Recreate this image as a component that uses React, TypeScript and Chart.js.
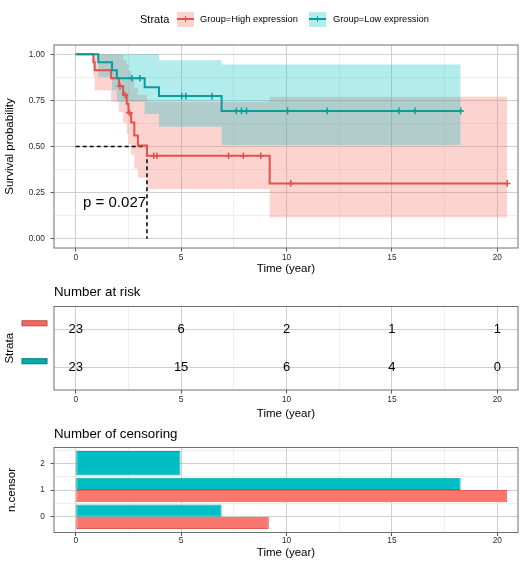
import React, { useEffect, useRef } from "react";
import { Chart, registerables } from "chart.js";
Chart.register(...registerables);

// ---------------- data ----------------
const highTimes = [0, 0.84, 0.9, 1.68, 2.05, 2.25, 2.42, 2.5, 2.63, 2.78, 2.95, 3.38, 9.2, 20.47];
const highSurv = [1, 0.957, 0.913, 0.87, 0.826, 0.78, 0.731, 0.683, 0.63, 0.56, 0.506, 0.45, 0.3, 0.3];
const highUpper = [1, 1, 1, 1, 0.996, 0.971, 0.941, 0.909, 0.874, 0.82, 0.78, 0.742, 0.77, 0.77];
const highLower = [1, 0.877, 0.805, 0.742, 0.685, 0.627, 0.568, 0.513, 0.455, 0.38, 0.33, 0.27, 0.117, 0.117];
const highCensor = [2.1, 2.34, 2.55, 3.7, 3.85, 7.25, 7.95, 8.78, 10.2, 20.47];

const lowTimes = [0, 1.07, 1.72, 1.95, 3.27, 3.95, 6.92, 18.26];
const lowSurv = [1, 0.957, 0.913, 0.87, 0.821, 0.773, 0.693, 0.693];
const lowUpper = [1, 1, 1, 1, 1, 0.967, 0.944, 0.944];
const lowLower = [1, 0.877, 0.805, 0.742, 0.676, 0.607, 0.508, 0.508];
const lowCensor = [2.66, 3.04, 5.03, 5.22, 6.46, 7.62, 7.86, 8.1, 10.05, 11.93, 15.33, 16.09, 18.26];

const medianTime = 3.38;
const medianSurv = 0.5;
const pValueText = "p = 0.027";

const xMajorTicks = [0, 5, 10, 15, 20];
const xMinorTicks = [2.5, 7.5, 12.5, 17.5];
const survTicks = [0, 0.25, 0.5, 0.75, 1];
const survMinorTicks = [0.125, 0.375, 0.625, 0.875];

const riskTimes = [0, 5, 10, 15, 20];
const riskHigh = [23, 6, 2, 1, 1];
const riskLow = [23, 15, 6, 4, 0];
const riskRows = [1, 2];

const censorLevels = [2, 1, 0];
const censorMinorLevels = [0.5, 1.5, 2.5];
const censorLowMaxTime = [4.97, 18.26, 6.92];
const censorHighMaxTime = [null, 20.47, 9.16];

// ---------------- styles ----------------
const FONT = "'Liberation Sans', Arial, Helvetica, sans-serif";
const RED_LINE = "#E0524A";
const TEAL_LINE = "#0B9A9E";
const RED_FILL = "rgba(248,118,109,0.32)";
const TEAL_FILL = "rgba(0,191,196,0.3)";
const RED_BAR = "#F8766D";
const TEAL_BAR = "#00BFC4";
const GRID_MAJOR = "#CFCFCF";
const GRID_MINOR = "#E3E3E3";
const TICK_TEXT = "#2b2b2b";
const PANEL_BORDER = "#707070";
const X_MIN = -1.03;
const X_MAX = 20.98;

const pts = (xs: number[], ys: number[]) => xs.map((x, i) => ({ x, y: ys[i] }));
function stepAt(times: number[], surv: number[], t: number) {
  let v = surv[0];
  for (let i = 0; i < times.length; i++) if (times[i] <= t) v = surv[i];
  return v;
}
const censorPts = (cs: number[], times: number[], surv: number[]) =>
  cs.map((t) => ({ x: t, y: stepAt(times, surv, t) }));

function xAxis(height: number, tickPad: number, titlePadBottom: number) {
  const all = [...xMajorTicks, ...xMinorTicks].sort((a, b) => a - b);
  const isMajor = (c: any) => c.tick && xMajorTicks.includes(c.tick.value);
  return {
    type: "linear",
    min: X_MIN,
    max: X_MAX,
    offset: false,
    afterBuildTicks: (s: any) => {
      s.ticks = all.map((v) => ({ value: v }));
    },
    afterFit: (s: any) => {
      s.height = height;
    },
    ticks: {
      autoSkip: false,
      maxRotation: 0,
      padding: tickPad,
      font: { family: FONT, size: 8.3 },
      color: TICK_TEXT,
      callback: (v: any) => (xMajorTicks.includes(v) ? String(v) : ""),
    },
    grid: {
      offset: false,
      color: (c: any) => (isMajor(c) ? GRID_MAJOR : GRID_MINOR),
      lineWidth: (c: any) => (isMajor(c) ? 1 : 0.6),
      tickColor: (c: any) => (isMajor(c) ? "#555" : "rgba(0,0,0,0)"),
      tickLength: 3.5,
      tickWidth: 1,
    },
    border: { display: false },
    title: {
      display: true,
      text: "Time (year)",
      color: "#000",
      font: { family: FONT, size: 11.5 },
      padding: { top: 0, bottom: titlePadBottom },
    },
  };
}

function yAxis(opts: {
  min: number;
  max: number;
  major: number[];
  minor: number[];
  label: (v: number) => string;
  title: string;
  titlePad: number;
  showTickMarks: boolean;
}) {
  const all = [...opts.major, ...opts.minor].sort((a, b) => a - b);
  const isMajor = (c: any) => c.tick && opts.major.includes(c.tick.value);
  return {
    type: "linear",
    min: opts.min,
    max: opts.max,
    offset: false,
    afterBuildTicks: (s: any) => {
      s.ticks = all.map((v) => ({ value: v }));
    },
    afterFit: (s: any) => {
      s.width = 54;
    },
    ticks: {
      autoSkip: false,
      padding: 5.6,
      font: { family: FONT, size: 8.3 },
      color: TICK_TEXT,
      callback: (v: any) => (opts.major.includes(v) ? opts.label(v) : ""),
    },
    grid: {
      offset: false,
      color: (c: any) => (isMajor(c) ? GRID_MAJOR : GRID_MINOR),
      lineWidth: (c: any) => (isMajor(c) ? 1 : 0.6),
      tickColor: (c: any) => (isMajor(c) && opts.showTickMarks ? "#555" : "rgba(0,0,0,0)"),
      tickLength: 3.5,
      tickWidth: 1,
    },
    border: { display: false },
    title: {
      display: true,
      text: opts.title,
      color: "#000",
      font: { family: FONT, size: 11.5 },
      padding: { top: opts.titlePad, bottom: 0 },
    },
  };
}

const borderPlugin = {
  id: "panelBorder",
  afterDraw(chart: any) {
    const { ctx, chartArea: a } = chart;
    ctx.save();
    ctx.strokeStyle = PANEL_BORDER;
    ctx.lineWidth = 1;
    ctx.strokeRect(a.left, a.top, a.right - a.left, a.bottom - a.top);
    ctx.restore();
  },
};

function titlePlugin(text: string, y: number) {
  return {
    id: "panelTitle",
    afterDraw(chart: any) {
      const { ctx, chartArea: a } = chart;
      ctx.save();
      ctx.fillStyle = "#000";
      ctx.font = `13.3px ${FONT}`;
      ctx.textAlign = "left";
      ctx.textBaseline = "middle";
      ctx.fillText(text, a.left, y);
      ctx.restore();
    },
  };
}

const baseOptions = {
  responsive: false,
  animation: false,
  events: [],
  plugins: { legend: { display: false }, tooltip: { enabled: false }, title: { display: false } },
};

function mainConfig(): any {
  const ribbon = (times: number[], vals: number[], fill: any, bg: string) => ({
    type: "line",
    data: pts(times, vals),
    borderColor: "rgba(0,0,0,0)",
    borderWidth: 0,
    pointRadius: 0,
    stepped: "before",
    fill,
    backgroundColor: bg,
  });
  return {
    type: "line",
    data: {
      datasets: [
        {
          type: "line",
          label: "Group=Low expression",
          data: pts(lowTimes, lowSurv),
          borderColor: TEAL_LINE,
          borderWidth: 2,
          pointRadius: 0,
          stepped: "before",
          fill: false,
        },
        {
          type: "line",
          label: "Group=High expression",
          data: pts(highTimes, highSurv),
          borderColor: RED_LINE,
          borderWidth: 2,
          pointRadius: 0,
          stepped: "before",
          fill: false,
        },
        {
          type: "scatter",
          data: censorPts(lowCensor, lowTimes, lowSurv),
          pointStyle: "cross",
          pointRadius: 3.3,
          borderColor: TEAL_LINE,
          backgroundColor: TEAL_LINE,
          borderWidth: 1.5,
        },
        {
          type: "scatter",
          data: censorPts(highCensor, highTimes, highSurv),
          pointStyle: "cross",
          pointRadius: 3.3,
          borderColor: RED_LINE,
          backgroundColor: RED_LINE,
          borderWidth: 1.5,
        },
        {
          type: "line",
          data: [
            { x: 0, y: medianSurv },
            { x: medianTime, y: medianSurv },
            { x: medianTime, y: 0 },
          ],
          borderColor: "#000",
          borderDash: [4, 3],
          borderWidth: 1.5,
          pointRadius: 0,
          fill: false,
        },
        ribbon(lowTimes, lowUpper, false, TEAL_FILL),
        ribbon(lowTimes, lowLower, 5, TEAL_FILL),
        ribbon(highTimes, highUpper, false, RED_FILL),
        ribbon(highTimes, highLower, 7, RED_FILL),
      ],
    },
    options: {
      ...baseOptions,
      layout: { padding: { top: 45, right: 10, left: 0, bottom: 0 } },
      scales: {
        x: xAxis(34, 1, 6),
        y: yAxis({
          min: -0.05,
          max: 1.05,
          major: survTicks,
          minor: survMinorTicks,
          label: (v) => v.toFixed(2),
          title: "Survival probability",
          titlePad: 3,
          showTickMarks: true,
        }),
      },
    },
    plugins: [
      borderPlugin,
      {
        id: "pvalue",
        afterDraw(chart: any) {
          const { ctx, scales } = chart;
          ctx.save();
          ctx.fillStyle = "#000";
          ctx.font = `15px ${FONT}`;
          ctx.textAlign = "left";
          ctx.textBaseline = "middle";
          ctx.fillText(pValueText, scales.x.getPixelForValue(0.35), scales.y.getPixelForValue(0.195));
          ctx.restore();
        },
      },
    ],
  };
}

function riskConfig(): any {
  return {
    type: "scatter",
    data: {
      datasets: [
        {
          label: "High",
          data: riskTimes.map((t, i) => ({ x: t, y: 2, n: riskHigh[i] })),
          pointRadius: 0,
        },
        {
          label: "Low",
          data: riskTimes.map((t, i) => ({ x: t, y: 1, n: riskLow[i] })),
          pointRadius: 0,
        },
      ],
    },
    options: {
      ...baseOptions,
      layout: { padding: { top: 24.5, right: 10, left: 0, bottom: 0 } },
      scales: {
        x: xAxis(32, 0.8, 1.1),
        y: yAxis({
          min: 0.4,
          max: 2.6,
          major: riskRows,
          minor: [],
          label: () => "",
          title: "Strata",
          titlePad: 3,
          showTickMarks: false,
        }),
      },
    },
    plugins: [
      borderPlugin,
      titlePlugin("Number at risk", 10.7),
      {
        id: "riskText",
        afterDatasetsDraw(chart: any) {
          const { ctx } = chart;
          ctx.save();
          ctx.fillStyle = "#000";
          ctx.font = `13px ${FONT}`;
          ctx.textAlign = "center";
          ctx.textBaseline = "middle";
          chart.data.datasets.forEach((ds: any, i: number) => {
            const meta = chart.getDatasetMeta(i);
            meta.data.forEach((el: any, j: number) => {
              ctx.fillText(String(ds.data[j].n), el.x, el.y);
            });
          });
          const ys = chart.scales.y;
          const rows: [number, string, string][] = [
            [2, "#EE6B61", "#C24840"],
            [1, "#00AEB2", "#00787C"],
          ];
          rows.forEach(([row, fill, stroke]) => {
            const y = ys.getPixelForValue(row) - 6;
            ctx.fillStyle = fill;
            ctx.strokeStyle = stroke;
            ctx.lineWidth = 1;
            ctx.fillRect(22, y - 2.5, 25, 5);
            ctx.strokeRect(22, y - 2.5, 25, 5);
          });
          ctx.restore();
        },
      },
    ],
  };
}

function censorConfig(): any {
  return {
    type: "bar",
    data: {
      datasets: [
        {
          label: "Low",
          data: censorLevels.map((lv, i) => ({ x: censorLowMaxTime[i], y: lv })),
          backgroundColor: TEAL_BAR,
          borderColor: "#00A2A6",
          borderWidth: 1,
          borderSkipped: false,
        },
        {
          label: "High",
          data: censorLevels.map((lv, i) => ({ x: censorHighMaxTime[i], y: lv })),
          backgroundColor: RED_BAR,
          borderColor: "#DB5F57",
          borderWidth: 1,
          borderSkipped: false,
        },
      ],
    },
    options: {
      ...baseOptions,
      indexAxis: "y",
      skipNull: true,
      categoryPercentage: 0.92,
      barPercentage: 1,
      layout: { padding: { top: 25.5, right: 10, left: 0, bottom: 0 } },
      scales: {
        x: { ...xAxis(32.5, 0, 4.8), stacked: false },
        y: {
          ...yAxis({
            min: -0.595,
            max: 2.595,
            major: censorLevels,
            minor: [],
            label: (v) => String(v),
            title: "n.censor",
            titlePad: 4.8,
            showTickMarks: true,
          }),
          stacked: false,
        },
        yMinor: {
          type: "linear",
          position: "left",
          min: -0.595,
          max: 2.595,
          offset: false,
          afterBuildTicks: (s: any) => {
            s.ticks = censorMinorLevels.map((v) => ({ value: v }));
          },
          afterFit: (s: any) => {
            s.width = 0;
          },
          ticks: { display: false },
          grid: { color: GRID_MINOR, lineWidth: 0.6, drawTicks: false, offset: false },
          border: { display: false },
        },
      },
    },
    plugins: [borderPlugin, titlePlugin("Number of censoring", 12)],
  };
}

const Swatch = ({ left, fill, line }: { left: number; fill: string; line: string }) => (
  <div style={{ position: "absolute", left, top: 11.5, width: 17, height: 15, background: fill }}>
    <div style={{ position: "absolute", left: 0, top: 6.5, width: 17, height: 2, background: line }} />
    <div style={{ position: "absolute", left: 7.75, top: 4.5, width: 1.5, height: 6, background: line }} />
  </div>
);

export default function App() {
  const mainRef = useRef<HTMLCanvasElement>(null);
  const riskRef = useRef<HTMLCanvasElement>(null);
  const censRef = useRef<HTMLCanvasElement>(null);

  useEffect(() => {
    const charts: Chart[] = [];
    if (mainRef.current) charts.push(new Chart(mainRef.current, mainConfig()));
    if (riskRef.current) charts.push(new Chart(riskRef.current, riskConfig()));
    if (censRef.current) charts.push(new Chart(censRef.current, censorConfig()));
    return () => charts.forEach((c) => c.destroy());
  }, []);

  const label = (left: number, size: number, text: string) => (
    <div
      style={{
        position: "absolute",
        left,
        top: 9,
        height: 20,
        lineHeight: "20px",
        fontSize: size,
        fontFamily: FONT,
        color: "#000",
        whiteSpace: "nowrap",
      }}
    >
      {text}
    </div>
  );

  return (
    <div style={{ position: "absolute", left: 0, top: 0, width: 528, height: 565, background: "#fff", overflow: "hidden" }}>
      <canvas ref={mainRef} width={528} height={282} style={{ position: "absolute", left: 0, top: 0, width: 528, height: 282 }} />
      <canvas ref={riskRef} width={528} height={140} style={{ position: "absolute", left: 0, top: 282, width: 528, height: 140 }} />
      <canvas ref={censRef} width={528} height={143} style={{ position: "absolute", left: 0, top: 422, width: 528, height: 143 }} />
      {label(140, 11, "Strata")}
      <Swatch left={177} fill={RED_FILL} line={RED_LINE} />
      {label(200, 9.3, "Group=High expression")}
      <Swatch left={309} fill={TEAL_FILL} line={TEAL_LINE} />
      {label(333, 9.3, "Group=Low expression")}
    </div>
  );
}
